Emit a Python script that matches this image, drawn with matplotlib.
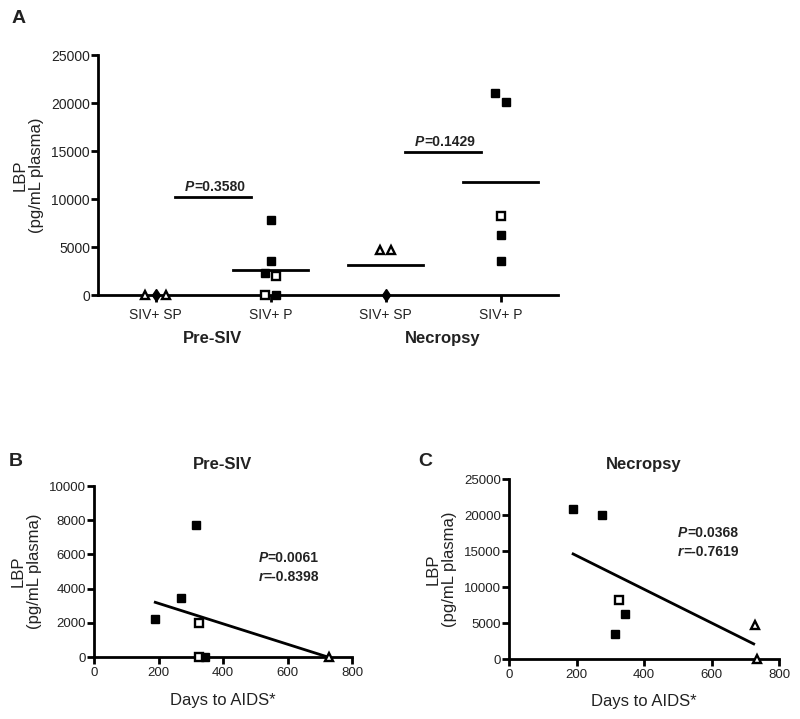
import matplotlib
matplotlib.use("Agg")
import matplotlib.pyplot as plt
import numpy as np

plt.rcParams['font.family'] = ['Liberation Sans', 'DejaVu Sans']

# ---------------- Data ----------------
# Panel A: groups
group_labels = ["SIV+ SP", "SIV+ P", "SIV+ SP", "SIV+ P"]
period_labels = ["Pre-SIV", "Necropsy"]

g1_vals = [0, 0, 0]
g1_mark = ["tri", "dia", "tri"]
g1_off = [-0.09, 0.0, 0.09]

g2_vals = [7800, 3500, 2300, 2000, 0, 0]
g2_mark = ["fsq", "fsq", "fsq", "osq", "osq", "fsq"]
g2_off = [0.0, 0.0, -0.05, 0.05, -0.05, 0.05]

g3_vals = [4700, 4700, 0]
g3_mark = ["tri", "tri", "dia"]
g3_off = [-0.05, 0.05, 0.0]

g4_vals = [21000, 20100, 8200, 6300, 3500]
g4_mark = ["fsq", "fsq", "osq", "fsq", "fsq"]
g4_off = [-0.05, 0.05, 0.0, 0.0, 0.0]

group_means = [0, 2600, 3100, 11800]
pvals_A = ["0.3580", "0.1429"]
pbar_y = [10200, 14900]

# Panel B (Pre-SIV)
b_days = [190, 270, 315, 325, 325, 345, 730]
b_lbp = [2200, 3450, 7750, 2000, 0, 0, 0]
b_mark = ["fsq", "fsq", "fsq", "osq", "osq", "fsq", "tri"]
b_fit = (-5.98, 4336.0)
b_fit_range = [190, 725]
b_stats = ("0.0061", "-0.8398")

# Panel C (Necropsy)
c_days = [190, 275, 315, 345, 325, 730, 735]
c_lbp = [20900, 20000, 3500, 6300, 8200, 4700, 0]
c_mark = ["fsq", "fsq", "fsq", "fsq", "osq", "tri", "tri"]
c_fit = (-23.36, 19039.0)
c_fit_range = [190, 725]
c_stats = ("0.0368", "-0.7619")

# ---------------- Styles ----------------
TXT = "#222222"

def mstyle(kind):
    if kind == "fsq":
        return dict(marker="s", ms=5.4, mfc="black", mec="black", mew=1.0)
    if kind == "osq":
        return dict(marker="s", ms=5.4, mfc="white", mec="black", mew=1.7)
    if kind == "tri":
        return dict(marker="^", ms=5.8, mfc="white", mec="black", mew=1.7)
    if kind == "dia":
        return dict(marker="d", ms=6, mfc="black", mec="black", mew=1.0)

def style_axes(ax, ls):
    for s in ["top", "right"]:
        ax.spines[s].set_visible(False)
    for s in ["left", "bottom"]:
        ax.spines[s].set_linewidth(2.0)
    ax.tick_params(width=2.0, length=5, labelsize=ls, direction="out",
                   pad=0.8, colors="black", labelcolor=TXT)

def ptext(ax, x, y, pstr, letter="P", fs=10, ha="left"):
    t = ax.text(x, y, letter, fontstyle="italic", fontweight="bold", fontsize=fs,
                ha=ha, va="bottom", color=TXT)
    ax.annotate("=" + pstr, xy=(1, 0), xycoords=t, fontweight="bold",
                fontsize=fs, ha="left", va="bottom", color=TXT)

fig = plt.figure(figsize=(8.0, 7.19), dpi=100)

# ---------------- Panel A ----------------
axA = fig.add_axes([0.1225, 0.5897, 0.5750, 0.3338])
style_axes(axA, 10)
positions = [1, 2, 3, 4]
groups = [(g1_vals, g1_mark, g1_off), (g2_vals, g2_mark, g2_off),
          (g3_vals, g3_mark, g3_off), (g4_vals, g4_mark, g4_off)]
for pos, (vals, marks, offs) in zip(positions, groups):
    for v, m, o in zip(vals, marks, offs):
        axA.plot(pos + o, v, linestyle="none", clip_on=False, zorder=5, **mstyle(m))
for pos, mval in zip(positions, group_means):
    if mval > 0:
        axA.plot([pos - 0.33, pos + 0.33], [mval, mval], color="black", lw=2.0)
# p-value bars
for i, (pv, py) in enumerate(zip(pvals_A, pbar_y)):
    xc = positions[2 * i] + 0.5
    axA.plot([xc - 0.33, xc + 0.33], [py, py], color="black", lw=2.0)
    ptext(axA, xc - 0.245, py + 350, pv)
axA.set_xlim(0.5, 4.5)
axA.set_ylim(0, 25000)
axA.set_yticks([0, 5000, 10000, 15000, 20000, 25000])
axA.set_xticks(positions)
axA.set_xticklabels(group_labels, fontsize=10)
axA.tick_params(axis="x", pad=4)
axA.set_ylabel("LBP\n(pg/mL plasma)", fontsize=12, linespacing=1.15,
               labelpad=5, color=TXT)
axA.text(1.5, -0.15, period_labels[0], transform=axA.get_xaxis_transform(),
         ha="center", va="top", fontsize=12, fontweight="bold", color=TXT)
axA.text(3.5, -0.15, period_labels[1], transform=axA.get_xaxis_transform(),
         ha="center", va="top", fontsize=12, fontweight="bold", color=TXT)
fig.text(0.015, 0.974, "A", fontsize=14, fontweight="bold", va="center", color=TXT)

# ---------------- Panel B ----------------
axB = fig.add_axes([0.1175, 0.0862, 0.3225, 0.2378])
style_axes(axB, 9.5)
for d, v, m in zip(b_days, b_lbp, b_mark):
    axB.plot(d, v, linestyle="none", clip_on=False, zorder=5, **mstyle(m))
xf = np.array(b_fit_range)
axB.plot(xf, b_fit[0] * xf + b_fit[1], color="black", lw=2.0)
axB.set_xlim(0, 800)
axB.set_ylim(0, 10000)
axB.set_xticks([0, 200, 400, 600, 800])
axB.set_yticks([0, 2000, 4000, 6000, 8000, 10000])
axB.tick_params(axis="x", pad=2.5)
axB.set_xlabel("Days to AIDS*", fontsize=12, labelpad=10, color=TXT)
axB.set_ylabel("LBP\n(pg/mL plasma)", fontsize=12, linespacing=1.15,
               labelpad=5, color=TXT)
axB.set_title("Pre-SIV", fontsize=12, fontweight="bold", pad=12, color=TXT)
ptext(axB, 510, 5400, b_stats[0], "P")
ptext(axB, 510, 4300, b_stats[1], "r")
fig.text(0.011, 0.358, "B", fontsize=14, fontweight="bold", va="center", color=TXT)

# ---------------- Panel C ----------------
axC = fig.add_axes([0.63625, 0.0834, 0.3375, 0.2503])
style_axes(axC, 9.5)
for d, v, m in zip(c_days, c_lbp, c_mark):
    axC.plot(d, v, linestyle="none", clip_on=False, zorder=5, **mstyle(m))
xf = np.array(c_fit_range)
axC.plot(xf, c_fit[0] * xf + c_fit[1], color="black", lw=2.0)
axC.set_xlim(0, 800)
axC.set_ylim(0, 25000)
axC.set_xticks([0, 200, 400, 600, 800])
axC.set_yticks([0, 5000, 10000, 15000, 20000, 25000])
axC.tick_params(axis="x", pad=2.5)
axC.set_xlabel("Days to AIDS*", fontsize=12, labelpad=9, color=TXT)
axC.set_ylabel("LBP\n(pg/mL plasma)", fontsize=12, linespacing=1.15,
               labelpad=5, color=TXT)
axC.set_title("Necropsy", fontsize=12, fontweight="bold", pad=7, color=TXT)
ptext(axC, 500, 16500, c_stats[0], "P")
ptext(axC, 500, 13900, c_stats[1], "r")
fig.text(0.523, 0.358, "C", fontsize=14, fontweight="bold", va="center", color=TXT)

fig.savefig("out.png", dpi=100)
